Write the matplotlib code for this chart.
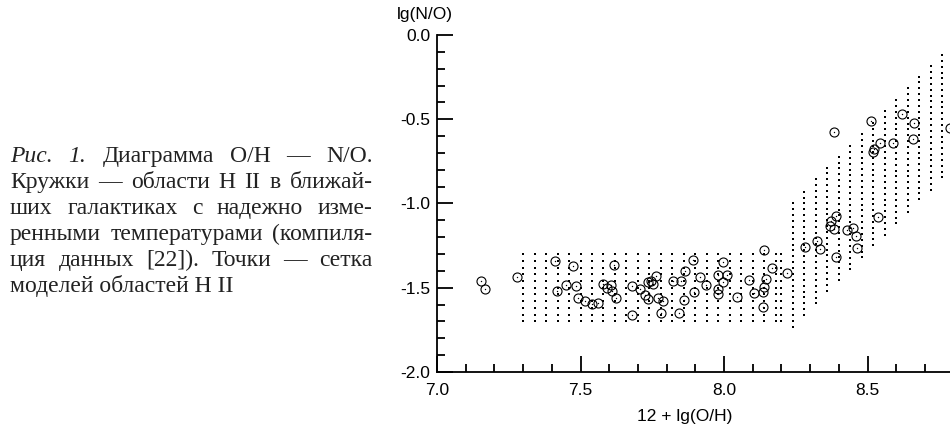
import numpy as np
import matplotlib
matplotlib.use('Agg')
import matplotlib.pyplot as plt
from matplotlib.ticker import MultipleLocator, FixedLocator, FormatStrFormatter

plt.rcParams['axes.unicode_minus'] = False

# H II regions (circles): 12+lg(O/H), lg(N/O)
hii_x = [7.153, 7.167, 7.278, 7.411, 7.475, 7.419, 7.449, 7.483, 7.490, 7.516,
         7.540, 7.561, 7.577, 7.592, 7.606, 7.609, 7.622, 7.617,
         7.681, 7.706, 7.723, 7.735, 7.679, 7.745, 7.763, 7.753, 7.735, 7.771,
         7.789, 7.779, 7.823, 7.850, 7.864, 7.891, 7.916, 7.936, 7.895, 7.861,
         7.842, 7.980, 7.995, 8.010, 7.995, 7.980, 7.980, 8.044, 8.088, 8.166,
         8.221, 8.146, 8.139, 8.137, 8.105, 8.137, 8.140,
         8.282, 8.323, 8.334, 8.390, 8.373, 8.369, 8.383, 8.390, 8.430, 8.451,
         8.460, 8.462, 8.538, 8.384, 8.511, 8.521, 8.519, 8.544, 8.590, 8.619,
         8.661, 8.657, 8.786]
hii_y = [-1.458, -1.506, -1.438, -1.341, -1.371, -1.519, -1.484, -1.490, -1.563, -1.579,
         -1.599, -1.589, -1.478, -1.501, -1.484, -1.519, -1.563, -1.367,
         -1.487, -1.507, -1.543, -1.569, -1.664, -1.460, -1.430, -1.478, -1.463, -1.561,
         -1.579, -1.648, -1.460, -1.458, -1.401, -1.338, -1.436, -1.484, -1.525, -1.573,
         -1.648, -1.424, -1.345, -1.424, -1.464, -1.510, -1.537, -1.553, -1.454, -1.381,
         -1.414, -1.450, -1.496, -1.523, -1.531, -1.616, -1.276,
         -1.256, -1.221, -1.270, -1.074, -1.104, -1.134, -1.151, -1.315, -1.159, -1.147,
         -1.193, -1.266, -1.080, -0.574, -0.510, -0.674, -0.694, -0.643, -0.639, -0.470,
         -0.524, -0.615, -0.554]

# model grid, low-metallicity block
low_cols = [7.30, 7.34, 7.38, 7.42, 7.46, 7.50, 7.54, 7.58, 7.62, 7.66, 7.70, 7.74,
            7.78, 7.82, 7.86, 7.90, 7.94, 7.98, 8.02, 8.06, 8.10, 8.14, 8.18, 8.20]
low_rows = [-1.30, -1.34, -1.38, -1.42, -1.46, -1.50, -1.54, -1.58, -1.62, -1.66, -1.70]

# model grid, high-metallicity columns (top / bottom of each column)
hi_cols = [8.24, 8.28, 8.32, 8.36, 8.40, 8.44, 8.48, 8.52, 8.56, 8.60, 8.64, 8.68, 8.72, 8.76]
hi_top = [-1.00, -0.93, -0.857, -0.787, -0.722, -0.659, -0.588, -0.524, -0.451, -0.386,
          -0.316, -0.247, -0.184, -0.119]
hi_bot = [-1.731, -1.662, -1.593, -1.517, -1.454, -1.391, -1.320, -1.246, -1.187, -1.118,
          -1.049, -0.975, -0.920, -0.845]
hi_n = 22

x_ticks = [7.0, 7.5, 8.0, 8.5]

caption = [
    [('Рис.', 'italic'), ('1.', 'italic'), ('Диаграмма', 'normal'), ('O/H', 'normal'),
     ('—', 'normal'), ('N/O.', 'normal')],
    [(w, 'normal') for w in 'Кружки — области H II в ближай-'.split()],
    [(w, 'normal') for w in 'ших галактиках с надежно изме-'.split()],
    [(w, 'normal') for w in 'ренными температурами (компиля-'.split()],
    [(w, 'normal') for w in 'ция данных [22]). Точки — сетка'.split()],
]
caption_last = 'моделей областей H II'

W, H = 950, 430
fig = plt.figure(figsize=(W / 100, H / 100), dpi=100)
ax = fig.add_axes([437 / W, 1 - 372 / H, 574 / W, 337 / H])

# grid dots
gx, gy = np.meshgrid(low_cols, low_rows)
ax.plot(gx.ravel(), gy.ravel(), 's', color='black', ms=1.9, mew=0, ls='none')
for c, t, b in zip(hi_cols, hi_top, hi_bot):
    ys = np.linspace(t, b, hi_n)
    ax.plot(np.full(hi_n, c), ys, 's', color='black', ms=1.9, mew=0, ls='none')

# H II regions
ax.plot(hii_x, hii_y, 'o', mfc='none', mec='black', ms=6.5, mew=0.8, ls='none')
ax.plot(hii_x, hii_y, 'o', color='black', ms=1.0, mew=0, ls='none')

ax.set_xlim(7.0, 9.0)
ax.set_ylim(-2.0, 0.0)
for s in ['top', 'right']:
    ax.spines[s].set_visible(False)
for s in ['left', 'bottom']:
    ax.spines[s].set_linewidth(1.3)
ax.xaxis.set_major_locator(FixedLocator(x_ticks))
ax.xaxis.set_minor_locator(MultipleLocator(0.1))
ax.yaxis.set_major_locator(MultipleLocator(0.5))
ax.yaxis.set_minor_locator(MultipleLocator(0.1))
ax.xaxis.set_major_formatter(FormatStrFormatter('%.1f'))
ax.yaxis.set_major_formatter(FormatStrFormatter('%.1f'))
ax.tick_params(which='both', direction='in', width=1.3, labelsize=12.5)
ax.tick_params(axis='x', which='major', pad=8)
ax.tick_params(axis='y', which='major', pad=5)
ax.tick_params(which='major', length=11.5)
ax.tick_params(which='minor', length=5.5)
for lab in ax.get_xticklabels() + ax.get_yticklabels():
    lab.set_family('Liberation Sans')

fig.text(425 / W, 1 - 15 / H, 'lg(N/O)', ha='center', va='center',
         family='Liberation Sans', fontsize=12.5)
fig.text(685 / W, 1 - 417 / H, '12 + lg(O/H)', ha='center', va='center',
         family='Liberation Sans', fontsize=12.5)

# justified caption
renderer = fig.canvas.get_renderer()
left, right = 10, 372.5
fs = 17
base0, step = 162, 26
for i, line in enumerate(caption):
    base = base0 + i * step
    items = []
    for word, style in line:
        t = fig.text(0, 1 - base / H, word, family='Liberation Serif', style=style,
                     fontsize=fs, ha='left', va='baseline', color='#222222')
        items.append(t)
    widths = [t.get_window_extent(renderer).width for t in items]
    gap = (right - left - sum(widths)) / (len(items) - 1)
    x = left
    for t, w in zip(items, widths):
        t.set_x(x / W)
        x += w + gap
fig.text(left / W, 1 - (base0 + 5 * step) / H, caption_last, family='Liberation Serif',
         fontsize=fs, ha='left', va='baseline', color='#222222')

fig.savefig('out.png', dpi=100)
